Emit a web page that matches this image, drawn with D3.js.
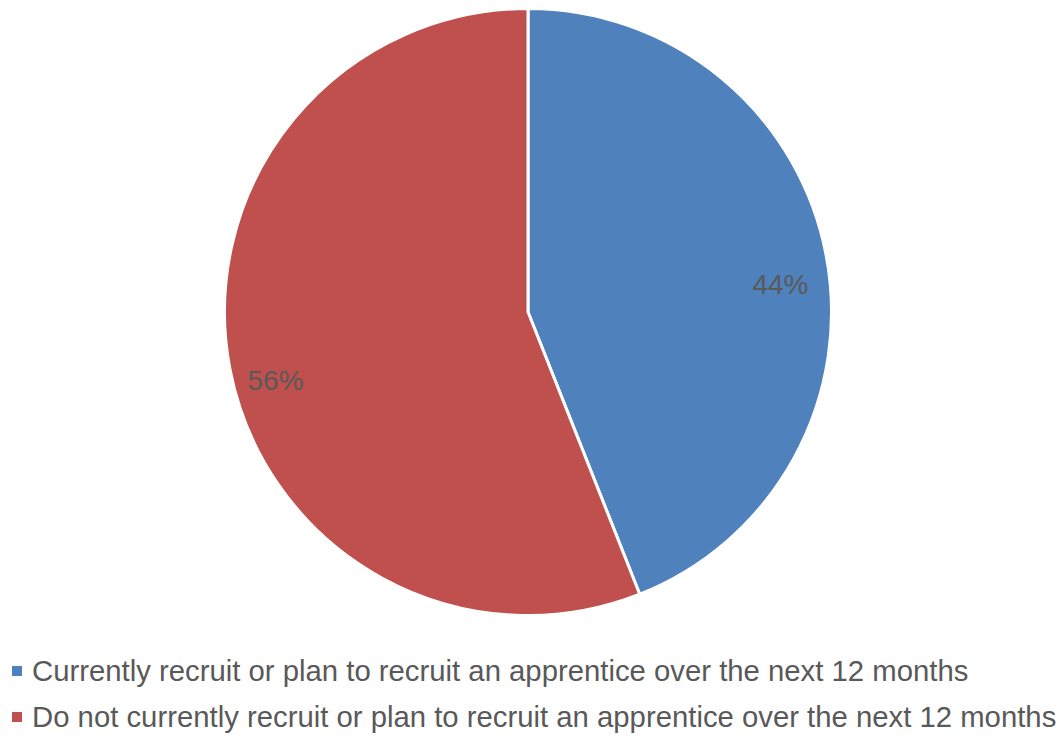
<!DOCTYPE html>
<html>
<head>
<meta charset="utf-8">
<script src="https://cdn.jsdelivr.net/npm/d3@7"></script>
<style>
  html, body { margin: 0; padding: 0; background: #ffffff; }
  svg { display: block; font-family: "Liberation Sans", Arial, sans-serif; }
</style>
</head>
<body>
<svg id="chart" width="1063" height="738"></svg>
<script>
// Survey responses on apprentice recruitment
const categories = [
  "Currently recruit or plan to recruit an apprentice over the next 12 months",
  "Do not currently recruit or plan to recruit an apprentice over the next 12 months"
];
const values = [44, 56];
const colors = ["#4F81BD", "#C0504D"];

const svg = d3.select("#chart");
const cx = 528, cy = 312, radius = 303.5;

const color = d3.scaleOrdinal().domain(categories).range(colors);

const pie = d3.pie().sort(null).value(d => d.value);
const data = pie(categories.map((c, i) => ({ name: c, value: values[i] })));

const arc = d3.arc().innerRadius(0).outerRadius(radius);
const labelArc = d3.arc().innerRadius(257).outerRadius(257);

const g = svg.append("g").attr("transform", `translate(${cx},${cy})`);

g.selectAll("path.slice")
  .data(data)
  .join("path")
  .attr("class", "slice")
  .attr("d", arc)
  .attr("fill", d => color(d.data.name))
  .attr("stroke", "#ffffff")
  .attr("stroke-width", 3)
  .attr("stroke-linejoin", "round");

g.selectAll("text.value")
  .data(data)
  .join("text")
  .attr("class", "value")
  .attr("x", d => labelArc.centroid(d)[0])
  .attr("y", d => labelArc.centroid(d)[1] + 30)
  .attr("text-anchor", "middle")
  .attr("fill", "#595959")
  .attr("font-size", 28)
  .text(d => d3.format(".0f")(d.data.value) + "%");

// Legend
const legend = svg.append("g").attr("transform", "translate(12,0)");
const rowY = d3.scalePoint().domain(categories).range([681, 727]);

const item = legend.selectAll("g.item")
  .data(categories)
  .join("g")
  .attr("class", "item")
  .attr("transform", d => `translate(0,${rowY(d)})`);

item.append("rect")
  .attr("x", 0)
  .attr("y", -15)
  .attr("width", 10)
  .attr("height", 10)
  .attr("fill", d => color(d));

item.append("text")
  .attr("x", 20)
  .attr("y", 0)
  .attr("fill", "#595959")
  .attr("font-size", 29.3)
  .text(d => d);
</script>
</body>
</html>
